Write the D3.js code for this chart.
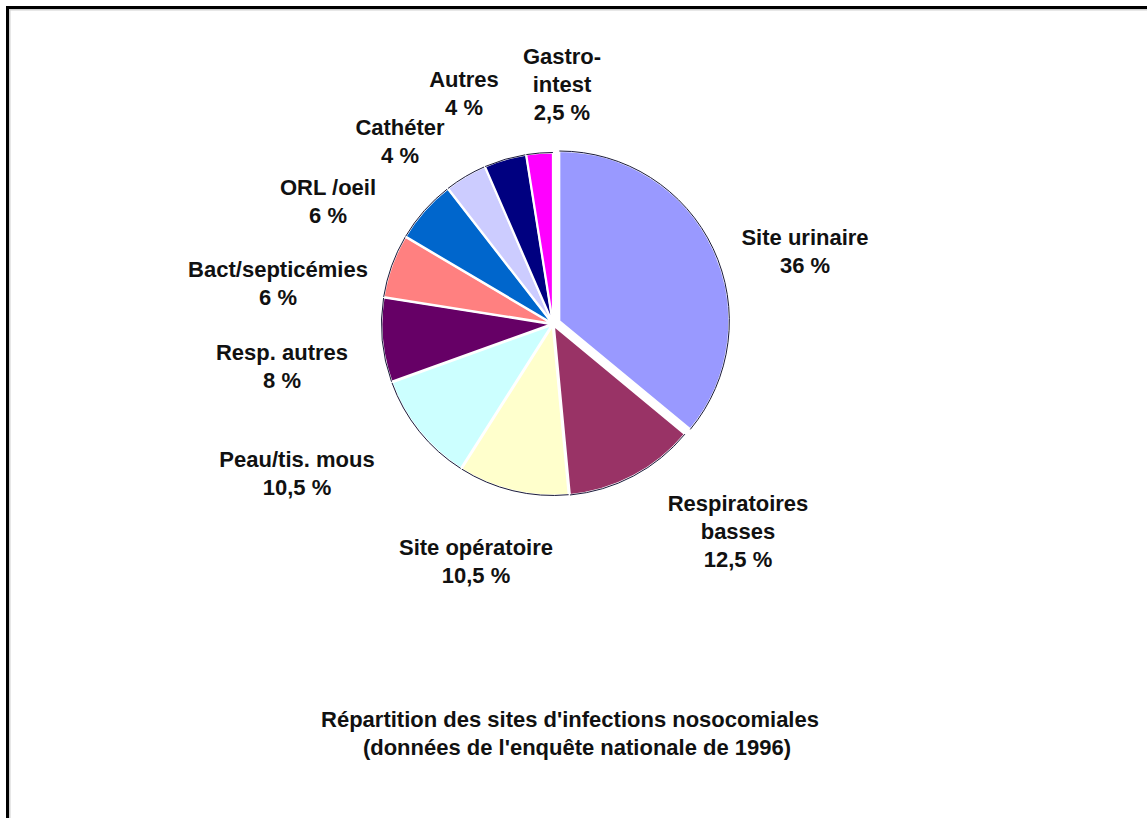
<!DOCTYPE html>
<html>
<head>
<meta charset="utf-8">
<script src="https://cdn.jsdelivr.net/npm/d3@7"></script>
<style>
  html, body { margin: 0; padding: 0; background: #fff; }
  svg { display: block; }
  text { font-family: "Liberation Sans", Arial, sans-serif; font-weight: bold; fill: #111; }
</style>
</head>
<body>
<svg id="chart" width="1147" height="818"></svg>
<script>
// Sites of hospital-acquired infections, national survey 1996 (% of infections)
const categories = [
  "Site urinaire", "Respiratoires basses", "Site opératoire", "Peau/tis. mous",
  "Resp. autres", "Bact/septicémies", "ORL /oeil", "Cathéter", "Autres", "Gastro-intest"
];
const values = [36, 12.5, 10.5, 10.5, 8, 6, 6, 4, 4, 2.5];
const labelLines = [
  ["Site urinaire"], ["Respiratoires", "basses"], ["Site opératoire"], ["Peau/tis. mous"],
  ["Resp. autres"], ["Bact/septicémies"], ["ORL /oeil"], ["Cathéter"], ["Autres"], ["Gastro-", "intest"]
];
const colors = [
  "#9999ff", "#993366", "#ffffcc", "#ccffff", "#660066",
  "#ff8080", "#0066cc", "#ccccff", "#000080", "#ff00ff"
];
const titleLines = [
  "Répartition des sites d'infections nosocomiales",
  "(données de l'enquête nationale de 1996)"
];

// Layout
const W = 1147, H = 818;
const cx = 553, cy = 324, R = 170;
const explode = [7, 2, 1.5, 1.5, 1.5, 1.5, 1.5, 1.5, 1.5, 1.5];
// anchor (centre x, first baseline y) of each slice label
const labelAnchor = [
  [805, 245], [738, 511], [476, 555], [297, 467], [282, 360],
  [278, 277], [328, 195], [400, 135], [464, 87], [562, 64]
];
const lineGap = 28;

const svg = d3.select("#chart");

// frame
svg.append("path")
  .attr("d", `M9.5,${H} V9.5 H${W}`)
  .attr("fill", "none").attr("stroke", "#d0d0d0").attr("stroke-width", 2);
svg.append("path")
  .attr("d", `M7.5,${H} V7.5 H${W}`)
  .attr("fill", "none").attr("stroke", "#000").attr("stroke-width", 3);

const pie = d3.pie().sort(null).value(d => d)(values);
const arc = d3.arc().innerRadius(0).outerRadius(R);

const g = svg.append("g").attr("transform", `translate(${cx},${cy})`);
const slice = g.selectAll("g.slice").data(pie).join("g")
  .attr("class", "slice")
  .attr("transform", (d, i) => {
    const a = (d.startAngle + d.endAngle) / 2;
    return `translate(${explode[i] * Math.sin(a)},${-explode[i] * Math.cos(a)})`;
  });

slice.append("path")
  .attr("d", arc)
  .attr("fill", (d, i) => colors[i])
  .attr("stroke", "#fff").attr("stroke-width", 2).attr("stroke-linejoin", "round");

// dark outline along the rim of each slice
slice.append("path")
  .attr("d", d => {
    const p = d3.path();
    p.arc(0, 0, R, d.startAngle - Math.PI / 2, d.endAngle - Math.PI / 2);
    return p.toString();
  })
  .attr("fill", "none").attr("stroke", "#1a1a3a").attr("stroke-width", 1);

// labels
const fmt = v => String(v).replace(".", ",") + " %";
const labels = svg.append("g").selectAll("text").data(pie).join("text")
  .attr("text-anchor", "middle")
  .attr("font-size", 22)
  .attr("x", (d, i) => labelAnchor[i][0])
  .attr("y", (d, i) => labelAnchor[i][1]);
labels.each(function (d, i) {
  const t = d3.select(this);
  const lines = labelLines[i].concat([fmt(values[i])]);
  lines.forEach((s, k) => {
    t.append("tspan")
      .attr("x", labelAnchor[i][0])
      .attr("y", labelAnchor[i][1] + k * lineGap)
      .text(s);
  });
});

// title
svg.append("g").selectAll("text").data(titleLines).join("text")
  .attr("text-anchor", "middle")
  .attr("font-size", 22)
  .attr("x", (d, i) => i === 0 ? 570 : 577)
  .attr("y", (d, i) => 727 + i * 28)
  .text(d => d);
</script>
</body>
</html>
